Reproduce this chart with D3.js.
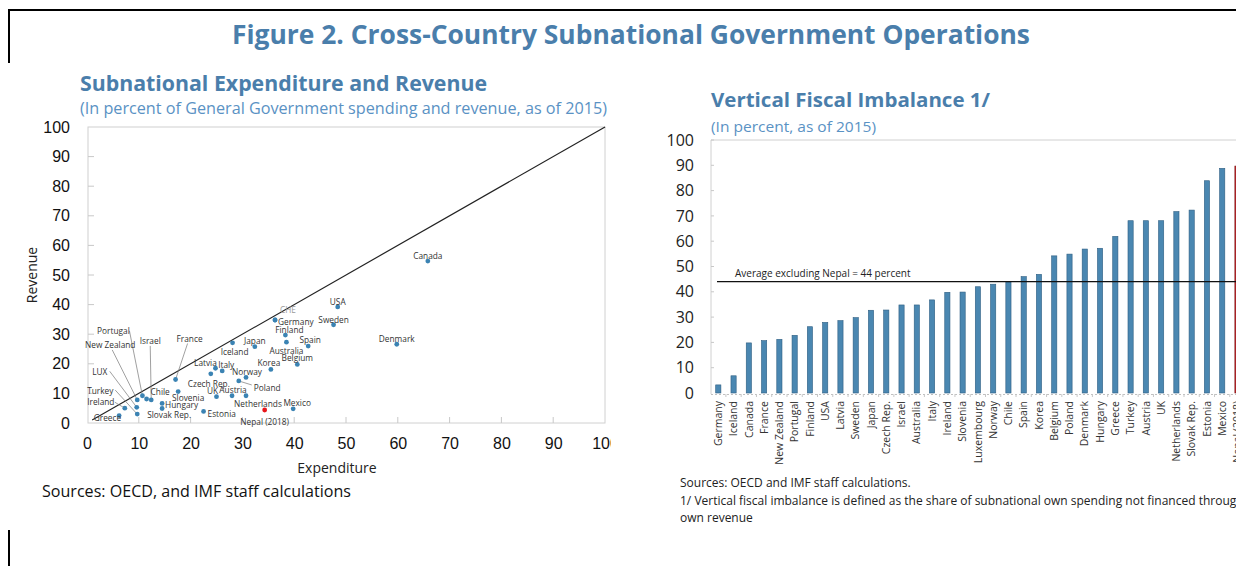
<!DOCTYPE html>
<html><head><meta charset="utf-8">
<script src="https://cdn.jsdelivr.net/npm/d3@7"></script>
<style>body{margin:0;background:#fff}svg{display:block}</style>
</head><body>
<script>
// ---------- DATA ----------
const scatterCountries = ["Canada","USA","Sweden","Denmark","Germany","CHE","Finland","Australia","Spain","Belgium","Korea","Japan","Iceland","Latvia","Italy","Czech Rep.","Norway","Poland","UK","Austria","Netherlands","Mexico","Nepal (2018)","Estonia","Hungary","Slovak Rep.","Slovenia","Chile","France","Portugal","Israel","New Zealand","LUX","Turkey","Ireland","Greece"];
const expenditure = [65.8,48.4,47.6,59.8,36.3,36.3,38.3,38.5,42.7,40.6,35.5,32.4,28.1,24.8,26.1,23.9,30.7,29.3,25.0,28.0,30.7,39.8,34.3,22.5,14.5,14.5,17.6,11.5,17.1,10.7,12.4,9.7,9.6,9.7,7.3,6.2];
const revenue     = [54.7,39.2,33.2,26.6,34.8,34.8,29.7,27.3,26.0,19.8,18.1,25.8,27.1,18.5,17.6,16.6,15.4,14.2,8.9,9.2,9.2,4.8,4.4,3.9,6.6,4.9,10.6,8.1,14.7,9.2,7.8,7.8,5.3,3.0,5.0,2.5];
const xTicks = [0,10,20,30,40,50,60,70,80,90,100];
const yTicks = [0,10,20,30,40,50,60,70,80,90,100];

const barCountries = ["Germany","Iceland","Canada","France","New Zealand","Portugal","Finland","USA","Latvia","Sweden","Japan","Czech Rep.","Israel","Australia","Italy","Ireland","Slovenia","Luxembourg","Norway","Chile","Spain","Korea","Belgium","Poland","Denmark","Hungary","Greece","Turkey","Austria","UK","Netherlands","Slovak Rep.","Estonia","Mexico","Nepal (2018)"];
const imbalance = [3.2,6.8,19.8,20.7,21.2,22.8,26.2,27.9,28.6,29.8,32.7,32.8,34.8,34.8,36.8,39.8,39.9,42.0,43.0,43.9,46.0,46.9,54.2,54.9,56.9,57.2,61.9,68.1,68.1,68.1,71.7,72.3,83.9,88.8,89.7];
const averageExNepal = 44;

// ---------- LAYOUT (label placement for scatter; px offsets from the dot) ----------
// [dx, dy, anchor, leader(optional: [x,y] end relative to dot)]
const labelLayout = {
  "Canada":[0,-5,"middle"],"USA":[0,-5,"middle"],"Sweden":[0,-5,"middle"],"Denmark":[0,-5,"middle"],
  "Germany":[3,2,"start"],"CHE":[5,-10,"start"],"Finland":[4,-5,"middle"],"Australia":[0,9,"middle"],
  "Spain":[2,-6,"middle"],"Belgium":[0,-6,"middle"],"Korea":[-2,-6,"middle"],"Japan":[0,-6,"middle"],
  "Iceland":[2,9,"middle"],"Latvia":[-10,-5,"middle"],"Italy":[4,-6,"middle"],"Czech Rep.":[-2,10,"middle"],
  "Norway":[1,-5,"middle"],"Poland":[15,7,"start",[13,4]],"UK":[-4,-6,"middle"],"Austria":[1,-6,"middle"],
  "Netherlands":[-12,8,"start"],"Mexico":[4,-6,"middle"],"Nepal (2018)":[0,12,"middle"],"Estonia":[4,3,"start"],
  "Hungary":[3,2,"start"],"Slovak Rep.":[7,7,"middle"],"Slovenia":[10,6,"middle"],"Chile":[4,-7,"start"],
  "France":[14,-40,"middle",[12,-36]],"Portugal":[-29,-65,"middle",[-13,-65]],"Israel":[-1,-59,"middle",[-1,-54]],
  "New Zealand":[-27,-55,"middle",[-25,-50]],"LUX":[-37,-35,"middle",[-27,-36]],"Turkey":[-37,-23,"middle",[-22,-24]],
  "Ireland":[-24,-6,"middle",[-10,-6]],"Greece":[2,2,"end"]
};

const W = 1236, H = 566;
const svg = d3.select("body").append("svg").attr("width", W).attr("height", H)
  .style("font-family", "'Open Sans', sans-serif");

const titleBlue = "#4a7eab", subBlue = "#5a92c4", dotBlue = "#3b83b3";

// frame
svg.append("line").attr("x1",9).attr("x2",W).attr("y1",10).attr("y2",10).attr("stroke","#000").attr("stroke-width",2);
svg.append("line").attr("x1",9).attr("x2",9).attr("y1",9).attr("y2",63).attr("stroke","#000").attr("stroke-width",2);
svg.append("line").attr("x1",9).attr("x2",9).attr("y1",530).attr("y2",H).attr("stroke","#000").attr("stroke-width",2);

// main title
svg.append("text").attr("x",631).attr("y",44).attr("text-anchor","middle")
  .attr("font-size",27).attr("font-weight","bold").attr("fill",titleBlue)
  .attr("textLength",798).attr("lengthAdjust","spacingAndGlyphs")
  .text("Figure 2. Cross-Country Subnational Government Operations");

// ---------- LEFT: scatter ----------
svg.append("text").attr("x",80).attr("y",91).attr("font-size",21).attr("font-weight","bold").attr("fill",titleBlue)
  .attr("textLength",407).attr("lengthAdjust","spacingAndGlyphs").text("Subnational Expenditure and Revenue");
svg.append("text").attr("x",80).attr("y",114).attr("font-size",16).attr("fill",subBlue)
  .attr("textLength",527).attr("lengthAdjust","spacingAndGlyphs")
  .text("(In percent of General Government spending and revenue, as of 2015)");

const x = d3.scaleLinear().domain([0,100]).range([87,605]);
const y = d3.scaleLinear().domain([0,100]).range([423,127]);

svg.append("rect").attr("x",88).attr("y",127).attr("width",517).attr("height",296)
  .attr("fill","none").attr("stroke","#d0d0d0").attr("stroke-width",1);

// inner ticks
svg.append("g").selectAll("line").data(yTicks.slice(1,-1)).join("line")
  .attr("x1",88).attr("x2",94).attr("y1",d=>y(d)).attr("y2",d=>y(d)).attr("stroke","#c8c8c8");
svg.append("g").selectAll("line").data(xTicks.slice(1,-1)).join("line")
  .attr("x1",d=>x(d)).attr("x2",d=>x(d)).attr("y1",423).attr("y2",417).attr("stroke","#c8c8c8");

// axis labels via d3 axes
const yAxL = svg.append("g").attr("transform","translate(86,0)")
  .call(d3.axisLeft(y).tickValues(yTicks).tickSize(0).tickPadding(16));
yAxL.select(".domain").remove();
yAxL.selectAll("text").attr("font-size",16).attr("font-family","'Liberation Sans', Arial, sans-serif").attr("fill","#111");

svg.append("clipPath").attr("id","xclip").append("rect").attr("x",0).attr("y",0).attr("width",611).attr("height",H);
const xAxL = svg.append("g").attr("transform","translate(0,430)").attr("clip-path","url(#xclip)")
  .call(d3.axisBottom(x).tickValues(xTicks).tickSize(0).tickPadding(8));
xAxL.select(".domain").remove();
xAxL.selectAll("text").attr("font-size",16).attr("font-family","'Liberation Sans', Arial, sans-serif").attr("fill","#111");

svg.append("text").attr("transform","translate(37,275) rotate(-90)").attr("text-anchor","middle")
  .attr("font-size",14).attr("fill","#222").text("Revenue");
svg.append("text").attr("x",337).attr("y",473).attr("text-anchor","middle")
  .attr("font-size",14).attr("fill","#222").text("Expenditure");
svg.append("text").attr("x",42).attr("y",497).attr("font-size",15.5).attr("fill","#111")
  .attr("textLength",309).attr("lengthAdjust","spacingAndGlyphs").text("Sources: OECD, and IMF staff calculations");

// 45-degree line
svg.append("line").attr("x1",x(1)).attr("y1",y(1)).attr("x2",x(100)).attr("y2",y(100))
  .attr("stroke","#222").attr("stroke-width",1.2);

const pts = scatterCountries.map((c,i)=>({c, e:expenditure[i], r:revenue[i]}));
// leader lines
svg.append("g").selectAll("line").data(pts.filter(p=>labelLayout[p.c][3])).join("line")
  .attr("x1",p=>x(p.e)).attr("y1",p=>y(p.r))
  .attr("x2",p=>x(p.e)+labelLayout[p.c][3][0]).attr("y2",p=>y(p.r)+labelLayout[p.c][3][1])
  .attr("stroke","#777").attr("stroke-width",0.7);
// dots
svg.append("g").selectAll("circle").data(pts).join("circle")
  .attr("cx",p=>x(p.e)).attr("cy",p=>y(p.r)).attr("r",2.4)
  .attr("fill",p=>p.c.startsWith("Nepal")?"#e8161b":dotBlue);
// labels
svg.append("g").selectAll("text").data(pts).join("text")
  .attr("x",p=>x(p.e)+labelLayout[p.c][0]).attr("y",p=>y(p.r)+labelLayout[p.c][1])
  .attr("dy","0.35em").attr("text-anchor",p=>labelLayout[p.c][2])
  .attr("font-size",8.3).attr("fill",p=>p.c==="CHE"?"#9a9a9a":"#333").text(p=>p.c);

// ---------- RIGHT: bars ----------
svg.append("text").attr("x",711).attr("y",107).attr("font-size",20).attr("font-weight","bold").attr("fill",titleBlue)
  .attr("textLength",279).attr("lengthAdjust","spacingAndGlyphs").text("Vertical Fiscal Imbalance 1/");
svg.append("text").attr("x",711).attr("y",132).attr("font-size",14.5).attr("fill",subBlue)
  .attr("textLength",165).attr("lengthAdjust","spacingAndGlyphs").text("(In percent, as of 2015)");

const xb = d3.scalePoint().domain(barCountries).range([718.3, 718.3 + 34*15.27]);
const yb = d3.scaleLinear().domain([0,100]).range([393,140]);

svg.append("line").attr("x1",711).attr("x2",W).attr("y1",140).attr("y2",140).attr("stroke","#d0d0d0");
svg.append("line").attr("x1",711).attr("x2",711).attr("y1",140).attr("y2",394).attr("stroke","#d0d0d0");
svg.append("g").selectAll("line").data(yTicks.slice(1)).join("line")
  .attr("x1",711).attr("x2",714).attr("y1",d=>yb(d)).attr("y2",d=>yb(d)).attr("stroke","#c8c8c8");
svg.append("line").attr("x1",711).attr("x2",W).attr("y1",394.5).attr("y2",394.5)
  .attr("stroke","#c0c0c0").attr("stroke-dasharray","2,2");
svg.append("g").selectAll("line").data(barCountries).join("line")
  .attr("x1",d=>xb(d)+7.6).attr("x2",d=>xb(d)+7.6).attr("y1",394).attr("y2",397).attr("stroke","#c8c8c8");

const yAxR = svg.append("g").attr("transform","translate(711,0)")
  .call(d3.axisLeft(yb).tickValues(yTicks).tickSize(0).tickPadding(17));
yAxR.select(".domain").remove();
yAxR.selectAll("text").attr("font-size",16).attr("font-family","'Open Sans', sans-serif").attr("fill","#222");

svg.append("g").selectAll("rect").data(barCountries).join("rect")
  .attr("x",d=>xb(d)-2.6).attr("width",5.2)
  .attr("y",(d,i)=>yb(imbalance[i])).attr("height",(d,i)=>yb(0)-yb(imbalance[i]))
  .attr("fill",d=>d.startsWith("Nepal")?"#b3262a":"#4a87b1")
  .attr("stroke",d=>d.startsWith("Nepal")?"#7a1010":"#2e5e82").attr("stroke-width",0.6);

svg.append("line").attr("x1",717).attr("x2",W).attr("y1",yb(averageExNepal)).attr("y2",yb(averageExNepal))
  .attr("stroke","#111").attr("stroke-width",1.3);
svg.append("text").attr("x",735).attr("y",yb(averageExNepal)-5).attr("font-size",10).attr("fill","#222")
  .text("Average excluding Nepal = " + averageExNepal + " percent");

svg.append("g").selectAll("text").data(barCountries).join("text")
  .attr("transform",d=>`translate(${xb(d)},401) rotate(-90)`)
  .attr("text-anchor","end").attr("dy","0.35em").attr("font-size",10.5).attr("fill","#333").text(d=>d);

svg.append("text").attr("x",680).attr("y",487).attr("font-size",12).attr("fill","#222")
  .text("Sources: OECD and IMF staff calculations.");
svg.append("text").attr("x",680).attr("y",505).attr("font-size",12).attr("fill","#222")
  .text("1/ Vertical fiscal imbalance is defined as the share of subnational own spending not financed through");
svg.append("text").attr("x",680).attr("y",522).attr("font-size",12).attr("fill","#222")
  .text("own revenue");
</script>
</body></html>
